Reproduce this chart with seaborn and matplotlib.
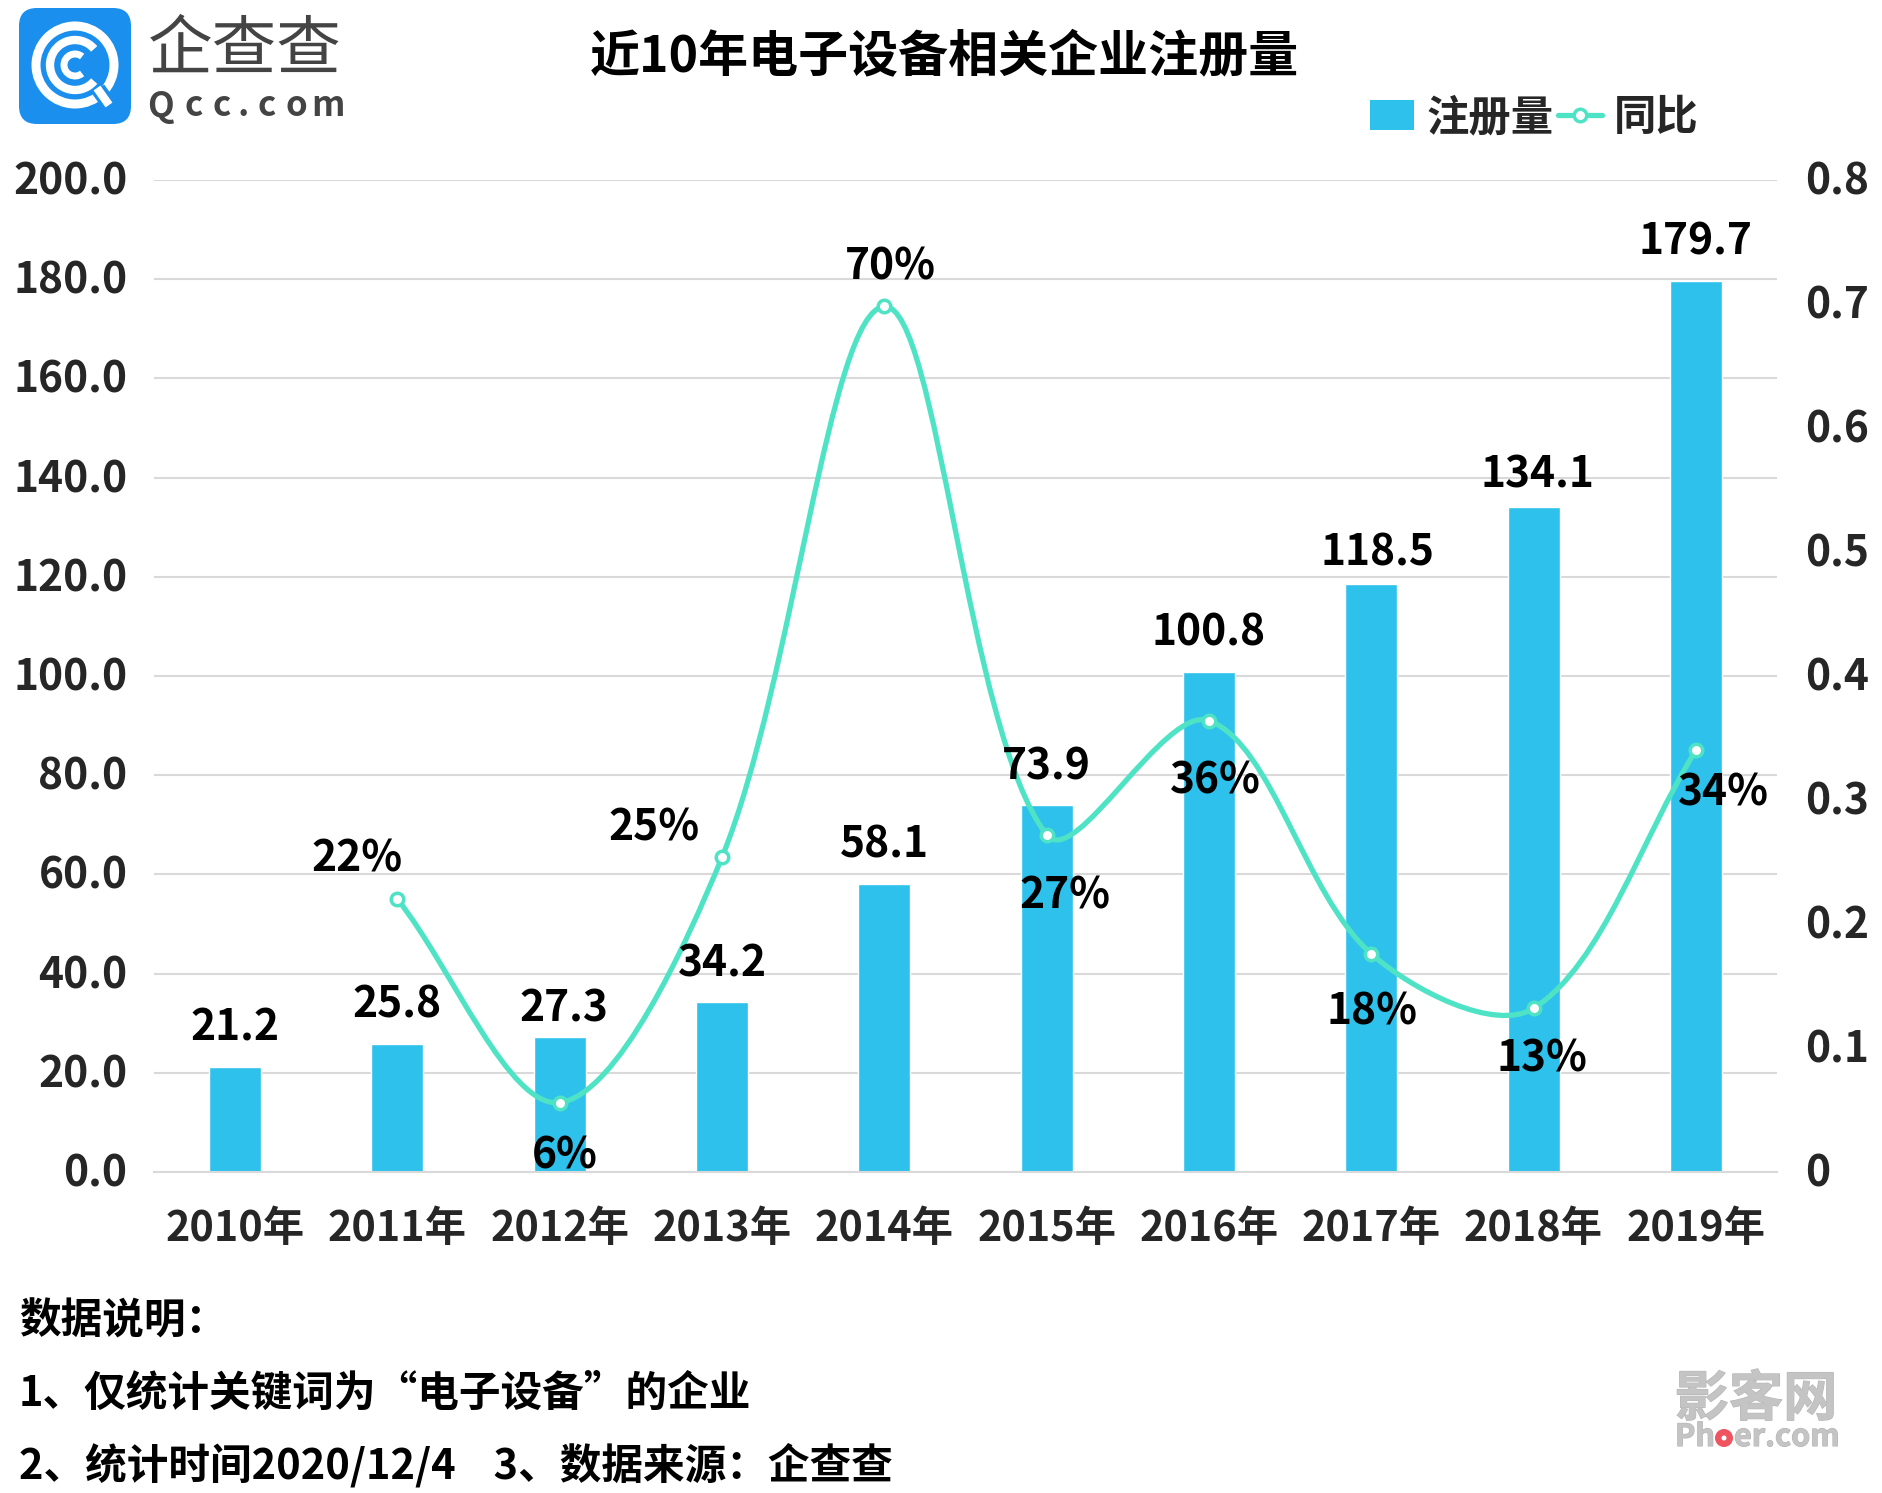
import numpy as np
import pandas as pd
import matplotlib
matplotlib.use('Agg')
import matplotlib.pyplot as plt
import matplotlib.patheffects as pe
import seaborn as sns
from matplotlib.lines import Line2D
from matplotlib.patches import Arc, Circle, FancyBboxPatch, PathPatch, Patch
from matplotlib.path import Path
from matplotlib.transforms import ScaledTranslation

# chart values
years = ['2010年', '2011年', '2012年', '2013年', '2014年', '2015年', '2016年', '2017年', '2018年', '2019年']
registered = [21.2, 25.8, 27.3, 34.2, 58.1, 73.9, 100.8, 118.5, 134.1, 179.7]
yoy = [np.nan, 0.22, 0.056, 0.254, 0.698, 0.272, 0.364, 0.176, 0.132, 0.34]
yoy_labels = ['', '22%', '6%', '25%', '70%', '27%', '36%', '18%', '13%', '34%']
left_ticks = [0, 20, 40, 60, 80, 100, 120, 140, 160, 180, 200]
right_ticks = [0, 0.1, 0.2, 0.3, 0.4, 0.5, 0.6, 0.7, 0.8]
right_tick_labels = ['0', '0.1', '0.2', '0.3', '0.4', '0.5', '0.6', '0.7', '0.8']
notes = ['数据说明：', '1、仅统计关键词为“电子设备”的企业', '2、统计时间2020/12/4    3、数据来源：企查查']

# label offsets in pixels from the mark
bar_dx = [0, 0, 4, 0, 0, 0, 0, 6, 4, 0]
bar_dy = [39, 40, 28, 39, 39, 39, 40, 32, 32, 39]
yoy_dx = [0, -40, 5, -68, 6, 18, 6, 1, 8, 28]
yoy_dy = [0, 41, -53, 30, 40, -61, -60, -58, -50, -42]

W, H = 1883, 1493
BAR = '#2DC1EB'
LINE = '#4FE3C5'
GRID = '#D9D9D9'
AX_W, AX_H = 1623, 992

sns.set_theme(style='white')
plt.rcParams['font.family'] = ['Noto Sans CJK SC', 'DejaVu Sans']
plt.rcParams['font.weight'] = 'bold'

fig = plt.figure(figsize=(W / 100, H / 100), dpi=100)
ax = fig.add_axes([154 / W, 1 - 1172 / H, AX_W / W, AX_H / H])

df = pd.DataFrame({'year': years, 'registered': registered})
sns.barplot(data=df, x='year', y='registered', color=BAR, saturation=1, width=0.32, ax=ax, zorder=2)
ax.set_xlim(-0.5, 9.5)
ax.set_ylim(0, 200)
ax.set_xlabel('')
ax.set_ylabel('')
ax.set_yticks(left_ticks)
ax.set_yticklabels([f'{t:.1f}' for t in left_ticks])
ax.grid(axis='y', color=GRID, linewidth=1.5, zorder=0)
ax.set_axisbelow(True)
sns.despine(ax=ax, left=True, right=True, top=True)
ax.spines['bottom'].set_color(GRID)
ax.spines['bottom'].set_linewidth(1.5)
ax.tick_params(axis='y', length=0, pad=19, labelsize=30.6)
ax.tick_params(axis='x', length=0, pad=26, labelsize=29.8)

ax2 = ax.twinx()
ax2.set_ylim(0, 0.8)
ax2.set_yticks(right_ticks)
ax2.set_yticklabels(right_tick_labels)
ax2.tick_params(axis='y', length=0, pad=20, labelsize=30.6)
ax2.grid(False)
for s in ax2.spines.values():
    s.set_visible(False)

# tick labels sit a little above their gridlines
nudge = ScaledTranslation(0, 3 / 100, fig.dpi_scale_trans)
for lab in ax.get_yticklabels() + ax2.get_yticklabels():
    lab.set_transform(lab.get_transform() + nudge)

# smoothed line through the points, Excel style bezier with chord length tangents
xs = np.arange(1, len(yoy))
ys = np.array(yoy[1:])
sx, sy = AX_W / 10, AX_H / 0.8


def chord(a, b):
    return np.hypot((b[0] - a[0]) * sx, (b[1] - a[1]) * sy)


verts = [(xs[0], ys[0])]
codes = [Path.MOVETO]
for i in range(len(xs) - 1):
    p0 = (xs[max(i - 1, 0)], ys[max(i - 1, 0)])
    p1 = (xs[i], ys[i])
    p2 = (xs[i + 1], ys[i + 1])
    p3 = (xs[min(i + 2, len(xs) - 1)], ys[min(i + 2, len(xs) - 1)])
    d0, d1, d2 = chord(p0, p1), chord(p1, p2), chord(p2, p3)
    k1 = 2 * d1 / (d0 + d1)
    k2 = 2 * d1 / (d1 + d2)
    c1 = (p1[0] + k1 * (p2[0] - p0[0]) / 6, p1[1] + k1 * (p2[1] - p0[1]) / 6)
    c2 = (p2[0] - k2 * (p3[0] - p1[0]) / 6, p2[1] - k2 * (p3[1] - p1[1]) / 6)
    verts += [c1, c2, p2]
    codes += [Path.CURVE4] * 3
ax2.add_patch(PathPatch(Path(verts, codes), fill=False, edgecolor=LINE, linewidth=3.8, zorder=3))

sns.lineplot(x=list(range(len(yoy))), y=yoy, ax=ax2, linestyle='none', marker='o', markersize=9,
             markerfacecolor='white', markeredgecolor=LINE, markeredgewidth=2.5, zorder=4, legend=False)
ax2.set_xlim(-0.5, 9.5)
ax2.set_ylabel('')

# bar labels go on the upper axes so the line stays behind them
for i, v in enumerate(registered):
    ax2.annotate(f'{v:.1f}', (i, v), xycoords=ax.transData, xytext=(bar_dx[i], bar_dy[i]),
                 textcoords='offset pixels', ha='center', va='center', fontsize=30.6, color='black', zorder=5)

for i, lab in enumerate(yoy_labels):
    if lab:
        ax2.annotate(lab, (i, yoy[i]), xytext=(yoy_dx[i], yoy_dy[i]), textcoords='offset pixels',
                     ha='center', va='center', fontsize=30.6, color='black', zorder=6)

handles = [Patch(facecolor=BAR, edgecolor='none'),
           Line2D([0], [0], color=LINE, linewidth=3.8, marker='o', markersize=9,
                  markerfacecolor='white', markeredgecolor=LINE, markeredgewidth=2.5)]
fig.legend(handles, ['注册量', '同比'], ncol=2, frameon=False, fontsize=30.5,
           loc='center left', bbox_to_anchor=(1370 / W, 1 - 118 / H),
           handlelength=1.05, handleheight=0.72, handletextpad=0.28, columnspacing=0.1,
           borderpad=0, borderaxespad=0)

fig.text(944 / W, 1 - 58 / H, '近10年电子设备相关企业注册量', ha='center', va='center', fontsize=36, color='black')

for y_px, line in zip([1322, 1394, 1465], notes):
    fig.text(19 / W, 1 - y_px / H, line, ha='left', va='center', fontsize=30, color='black')

# logo and watermark layer, pixel coordinates
top = fig.add_axes([0, 0, 1, 1], zorder=10)
top.set_xlim(0, W)
top.set_ylim(H, 0)
top.axis('off')
top.patch.set_alpha(0)

top.add_patch(FancyBboxPatch((31, 20), 88, 92, boxstyle='round,pad=12,rounding_size=18',
                             facecolor='#1A8FEE', edgecolor='none'))
top.add_patch(Circle((75, 65), 39, fill=False, edgecolor='white', linewidth=6.5))
top.add_patch(Arc((75, 65), 50, 50, theta1=40, theta2=320, edgecolor='white', linewidth=6))
top.add_patch(Arc((75, 65), 22, 22, theta1=50, theta2=310, edgecolor='white', linewidth=5))
top.plot([98, 111], [89, 107], color='#1A8FEE', linewidth=11, solid_capstyle='butt')
top.plot([97, 109], [88, 105], color='white', linewidth=6, solid_capstyle='butt')
top.text(245, 50, '企查查', ha='center', va='center', fontsize=46.5, weight='normal', color='#444444')
for x_px, ch in zip([161, 194, 222, 243, 267, 296, 328], ['Q', 'c', 'c', '.', 'c', 'o', 'm']):
    top.text(x_px, 106, ch, ha='center', va='center', fontsize=25, weight='bold', color='#444444')

stroke = [pe.withStroke(linewidth=0.8, foreground='#B5B5B5')]
top.text(1756, 1400, '影客网', ha='center', va='center', fontsize=39, color='#C4C4C4', path_effects=stroke)
top.text(1715, 1437, 'Ph', ha='right', va='center', fontsize=22, color='#C4C4C4', path_effects=stroke)
top.text(1734, 1437, 'er.com', ha='left', va='center', fontsize=22, color='#C4C4C4', path_effects=stroke)
top.add_patch(Circle((1724, 1438), 9, facecolor='#EE5560', edgecolor='none'))
top.add_patch(Circle((1724, 1438), 2.5, facecolor='white', edgecolor='none'))

fig.savefig('out.png', dpi=100)
